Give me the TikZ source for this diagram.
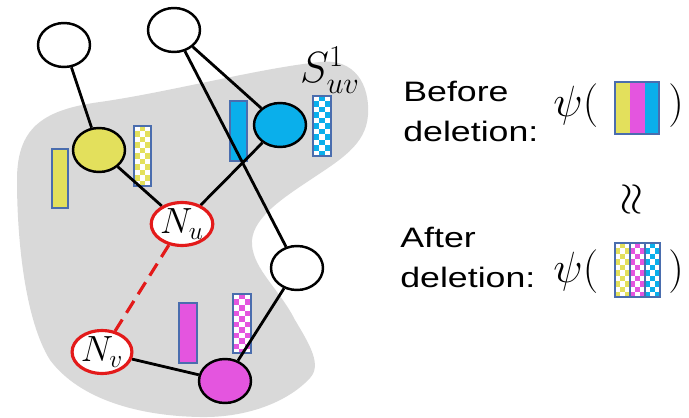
\documentclass[tikz,border=0pt]{standalone}
\usepackage{fontspec}
\usetikzlibrary{shapes.geometric}
\newfontfamily\labelfont{Liberation Sans}

\definecolor{yellowfill}{HTML}{E3E05C}
\definecolor{magentafill}{HTML}{E455DF}
\definecolor{bluefill}{HTML}{0AAFEB}
\definecolor{barblue}{HTML}{4A6DAE}
\definecolor{blobgray}{HTML}{D9D9D9}
\definecolor{nodered}{HTML}{E31A1A}

\pgfdeclarelayer{regionlayer}
\pgfdeclarelayer{edgelayer}
\pgfsetlayers{regionlayer,edgelayer,main}

% a bar filled with a checkerboard of one colour and white
\newcommand\checkbar[6]{%
  \begin{scope}
    \clip (#1,#2) rectangle (#3,#4);
    \fill[white] (#1,#2) rectangle (#3,#4);
    \foreach \j in {0,...,12}{
      \foreach \i in {1,...,#6}{
        \pgfmathtruncatemacro\k{mod(\i+\j,2)}
        \ifnum\k=0
          \fill[#5] ({#1+(\i-1)*(#3-#1)/#6},{#2+\j*5.5}) rectangle ++({(#3-#1)/#6},5.5);
        \fi
      }
    }
  \end{scope}
  \draw[barframe] (#1,#2) rectangle (#3,#4);}

\tikzset{
  graphnode/.style={ellipse, draw=black, line width=1.4pt, minimum width=1.04cm,
                    minimum height=0.88cm, inner sep=0pt},
  plainnode/.style={graphnode, fill=white},
  rednode/.style={ellipse, draw=nodered, line width=1.8pt, fill=white,
                  minimum width=1.0cm, minimum height=0.84cm, inner sep=0pt,
                  font=\fontsize{20}{20}\selectfont},
  edge/.style={line width=1.6pt, black},
  deledge/.style={line width=1.8pt, nodered, dash pattern=on 8pt off 4.5pt},
  barframe/.style={draw=barblue, line width=0.6pt},
  sidetext/.style={anchor=base west, inner sep=0pt, font=\labelfont\fontsize{16}{16}\selectfont},
  mathtext/.style={anchor=base west, inner sep=0pt, font=\fontsize{23}{23}\selectfont},
}

\begin{document}
\begin{tikzpicture}[x=0.02cm, y=-0.02cm]
\useasboundingbox (0,0) rectangle (689,418);

% nodes
\node[plainnode] (tl) at (64,45) {};
\node[plainnode] (tm) at (174,30) {};
\node[graphnode, fill=yellowfill] (yel) at (99,150) {};
\node[graphnode, fill=bluefill] (blu) at (280,125) {};
\node[plainnode] (wr) at (297,268) {};
\node[graphnode, fill=magentafill] (mag) at (225,381) {};
\node[rednode] (nu) at (182,224) {$N_u$};
\node[rednode] (nv) at (102,352) {$N_v$};

\begin{pgfonlayer}{regionlayer}
% shaded neighbourhood region
\fill[blobgray] (17,180)
  .. controls (17,130) and (40,110) .. (100,102)
  .. controls (170,92) and (260,68) .. (320,62)
  .. controls (355,58) and (370,85) .. (368,115)
  .. controls (366,145) and (340,160) .. (310,180)
  .. controls (280,200) and (250,220) .. (252,245)
  .. controls (254,270) and (280,290) .. (295,320)
  .. controls (310,345) and (322,365) .. (310,378)
  .. controls (290,400) and (250,418) .. (200,417)
  .. controls (140,416) and (80,400) .. (50,360)
  .. controls (25,320) and (17,240) .. (17,180) -- cycle;

% embedding bars: solid and checkered
\fill[yellowfill, barframe] (52,149) rectangle (68,208);
\checkbar{134}{126}{151}{186}{yellowfill}{3}
\fill[bluefill, barframe] (230,101) rectangle (247,161);
\checkbar{313}{96}{331}{156}{bluefill}{3}
\fill[magentafill, barframe] (179,303) rectangle (197,363);
\checkbar{233}{294}{251}{353}{magentafill}{3}
\end{pgfonlayer}

% edges
\begin{pgfonlayer}{edgelayer}
\draw[edge] (tl) -- (yel);
\draw[edge] (tm) -- (blu);
\draw[edge] (tm) -- (wr);
\draw[edge] (yel) -- (nu);
\draw[edge] (blu) -- (nu);
\draw[edge] (nv) -- (mag);
\draw[edge] (mag) -- (wr);
\draw[deledge] (nu) -- (nv);
\end{pgfonlayer}

% set label
\node[inner sep=0pt, font=\fontsize{23}{23}\selectfont] (slabel) at (330,70) {$S^1_{uv}$};

% before / after deletion
\node[sidetext] (b1) at (403,102) {\scalebox{1.27}[1]{Before}};
\node[sidetext] (b2) at (403,142) {\scalebox{1.27}[1]{deletion:}};
\node[sidetext] (a1) at (400,248) {\scalebox{1.27}[1]{After}};
\node[sidetext] (a2) at (400,288) {\scalebox{1.27}[1]{deletion:}};

\node[mathtext] (psib) at (553,117) {$\psi($};
\node[mathtext] (closeb) at (668,117) {$)$};
\fill[yellowfill] (615,82) rectangle (630,134);
\fill[magentafill] (630,82) rectangle (645,134);
\fill[bluefill] (645,82) rectangle (659,134);
\draw[barframe] (615,82) rectangle (659,134);

\node[inner sep=0pt, rotate=90, font=\fontsize{23}{23}\selectfont] (approx) at (633,200) {$\approx$};

\node[mathtext] (psia) at (553,283) {$\psi($};
\node[mathtext] (closea) at (668,283) {$)$};
\checkbar{615}{243}{630}{297}{yellowfill}{3}
\checkbar{630}{243}{645}{297}{magentafill}{3}
\checkbar{645}{243}{660}{297}{bluefill}{3}
\draw[barframe] (615,243) rectangle (660,297);
\end{tikzpicture}
\end{document}
